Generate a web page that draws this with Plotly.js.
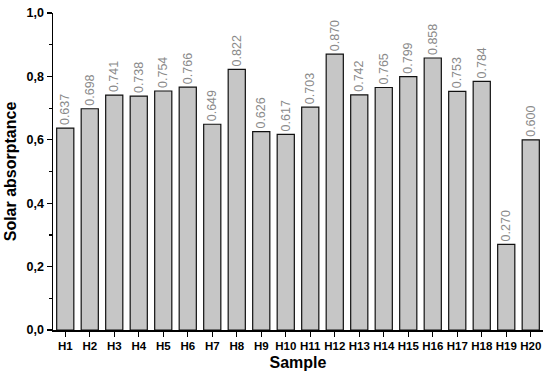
<!DOCTYPE html>
<html>
<head>
<meta charset="utf-8">
<script src="https://cdn.plot.ly/plotly-3.0.1.min.js"></script>
<style>html,body{margin:0;padding:0;background:#fff;}#chart{width:550px;height:379px;}</style>
</head>
<body>
<div id="chart"></div>
<script>
const samples = ['H1','H2','H3','H4','H5','H6','H7','H8','H9','H10','H11','H12','H13','H14','H15','H16','H17','H18','H19','H20'];
const absorptance = [0.637,0.698,0.741,0.738,0.754,0.766,0.649,0.822,0.626,0.617,0.703,0.870,0.742,0.765,0.799,0.858,0.753,0.784,0.270,0.600];
const labels = absorptance.map(v => v.toFixed(3));

const trace = {
  type: 'bar',
  x: samples,
  y: absorptance,
  text: labels,
  textposition: 'outside',
  textangle: -90,
  constraintext: 'none',
  cliponaxis: false,
  outsidetextfont: {family: 'Liberation Sans, Arial, sans-serif', size: 12.5, color: '#8a8a8a'},
  marker: {color: '#c6c6c6', line: {color: '#111', width: 1.2}},
  hoverinfo: 'none'
};

const layout = {
  width: 550, height: 379,
  margin: {l: 53, r: 7, t: 13, b: 49},
  paper_bgcolor: '#fff', plot_bgcolor: '#fff',
  separators: ',.',
  bargap: 0.3,
  showlegend: false,
  font: {family: 'Liberation Sans, Arial, sans-serif', color: '#000'},
  xaxis: {
    type: 'category',
    range: [-0.5, 19.5],
    showline: true, linecolor: '#000', linewidth: 1.5,
    ticks: 'outside', ticklen: 5, tickwidth: 1.2, tickcolor: '#000',
    tickfont: {size: 11.5, weight: 'bold', color: '#000'},
    showgrid: false, zeroline: false,
    title: {text: 'Sample', font: {size: 16, weight: 'bold'}, standoff: 5}
  },
  yaxis: {
    range: [0, 1.0],
    showline: true, linecolor: '#000', linewidth: 1.5,
    ticks: 'outside', ticklen: 5, tickwidth: 1.2, tickcolor: '#000',
    dtick: 0.2, tickformat: '.1f',
    tickfont: {size: 12.5, weight: 'bold', color: '#000'},
    minor: {dtick: 0.1, ticks: 'outside', ticklen: 3, tickwidth: 1.2, tickcolor: '#000', showgrid: false},
    showgrid: false, zeroline: false,
    title: {text: 'Solar absorptance', font: {size: 16, weight: 'bold'}, standoff: 6}
  }
};

Plotly.newPlot('chart', [trace], layout, {staticPlot: true, displayModeBar: false});
</script>
</body>
</html>
